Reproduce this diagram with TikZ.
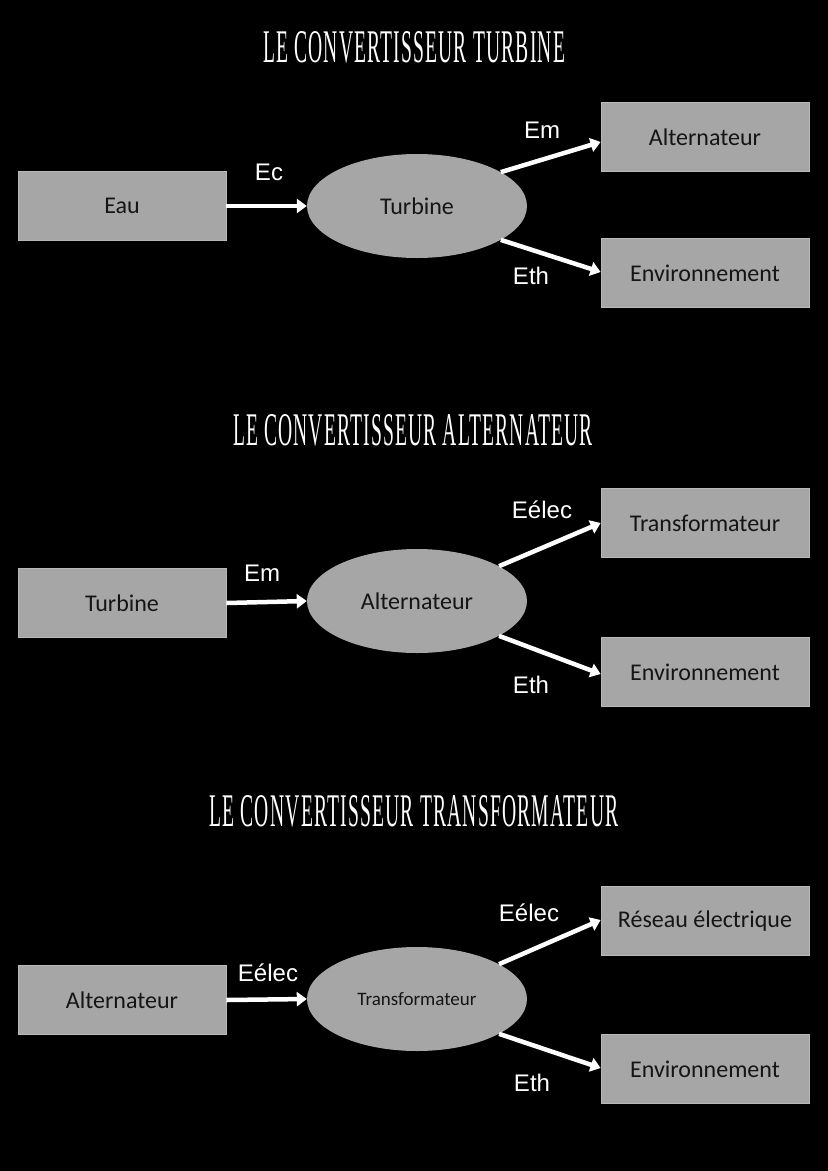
\documentclass[tikz,border=0pt]{standalone}
\usepackage{fontspec}
\usepackage{graphicx}
\setmainfont{Carlito}
\newfontfamily\labelfont{Liberation Sans}
\newfontfamily\titlefont[LetterSpace=6]{Liberation Serif}
\usetikzlibrary{arrows.meta,shapes.geometric}
\definecolor{boxgray}{HTML}{A6A6A6}
\definecolor{boxedge}{HTML}{B8B8B8}
\definecolor{boxtext}{HTML}{151515}
\tikzset{
  boxnode/.style={rectangle, fill=boxgray, draw=boxedge, line width=0.8pt,
    minimum width=208pt, minimum height=69pt, inner sep=0pt,
    text=boxtext, font=\fontsize{24}{28}\selectfont},
  ellnode/.style={ellipse, fill=boxgray, draw=none,
    minimum width=220pt, minimum height=104pt, inner sep=0pt,
    text=boxtext, font=\fontsize{24}{28}\selectfont},
  lbl/.style={text=white, inner sep=0pt, font=\labelfont\fontsize{24}{28}\selectfont},
  titlenode/.style={text=white, inner sep=0pt},
  flow/.style={draw=white, line width=4.5pt, -{Triangle[length=10pt,width=14pt]}}
}
\begin{document}
\begin{tikzpicture}[x=1pt,y=-1pt]
\fill[black] (0,0) rectangle (828,1171);
\useasboundingbox (0,0) rectangle (828,1171);

% ---------- Diagram 1 ----------
\node[titlenode] (t1) at (414,47.5) {\resizebox{302pt}{31pt}{\titlefont LE CONVERTISSEUR TURBINE}};
\node[boxnode] (a1) at (122,206) {Eau};
\node[ellnode] (e1) at (417,206) {Turbine};
\node[boxnode] (b1) at (705,137) {Alternateur};
\node[boxnode] (c1) at (705,273) {Environnement};
\draw[flow] (a1.east) -- (e1.west);
\coordinate (b1in) at ([yshift=-5pt]b1.west);
\coordinate (c1in) at ([yshift=1pt]c1.west);
\draw[flow] (e1.22) -- (b1in);
\draw[flow] (e1.-22) -- (c1in);
\node[lbl] (l1a) at (269,172) {Ec};
\node[lbl] (l1b) at (542,130) {Em};
\node[lbl] (l1c) at (531,276) {Eth};

% ---------- Diagram 2 ----------
\node[titlenode] (t2) at (413,430) {\resizebox{360pt}{31pt}{\titlefont LE CONVERTISSEUR ALTERNATEUR}};
\node[boxnode] (a2) at (122,603) {Turbine};
\node[ellnode] (e2) at (417,601) {Alternateur};
\node[boxnode] (b2) at (705,523) {Transformateur};
\node[boxnode] (c2) at (705,672) {Environnement};
\draw[flow] (a2.east) -- (e2.west);
\coordinate (b2in) at ([yshift=0pt]b2.west);
\coordinate (c2in) at ([yshift=-2pt]c2.west);
\draw[flow] (e2.23.5) -- (b2in);
\draw[flow] (e2.-23) -- (c2in);
\node[lbl] (l2a) at (262,573) {Em};
\node[lbl] (l2b) at (542,510) {Eélec};
\node[lbl] (l2c) at (531,685) {Eth};

% ---------- Diagram 3 ----------
\node[titlenode] (t3) at (414,811) {\resizebox{409pt}{31pt}{\titlefont LE CONVERTISSEUR TRANSFORMATEUR}};
\node[boxnode] (a3) at (122,1000) {Alternateur};
\node[ellnode,font=\fontsize{19}{22}\selectfont] (e3) at (417,999) {Transformateur};
\node[boxnode] (b3) at (705,921) {Réseau électrique};
\node[boxnode] (c3) at (705,1069) {Environnement};
\draw[flow] (a3.east) -- (e3.west);
\coordinate (b3in) at ([yshift=1pt]b3.west);
\coordinate (c3in) at ([yshift=1pt]c3.west);
\draw[flow] (e3.23.5) -- (b3in);
\draw[flow] (e3.-23) -- (c3in);
\node[lbl] (l3a) at (268,973) {Eélec};
\node[lbl] (l3b) at (529,913) {Eélec};
\node[lbl] (l3c) at (532,1083) {Eth};
\end{tikzpicture}
\end{document}
